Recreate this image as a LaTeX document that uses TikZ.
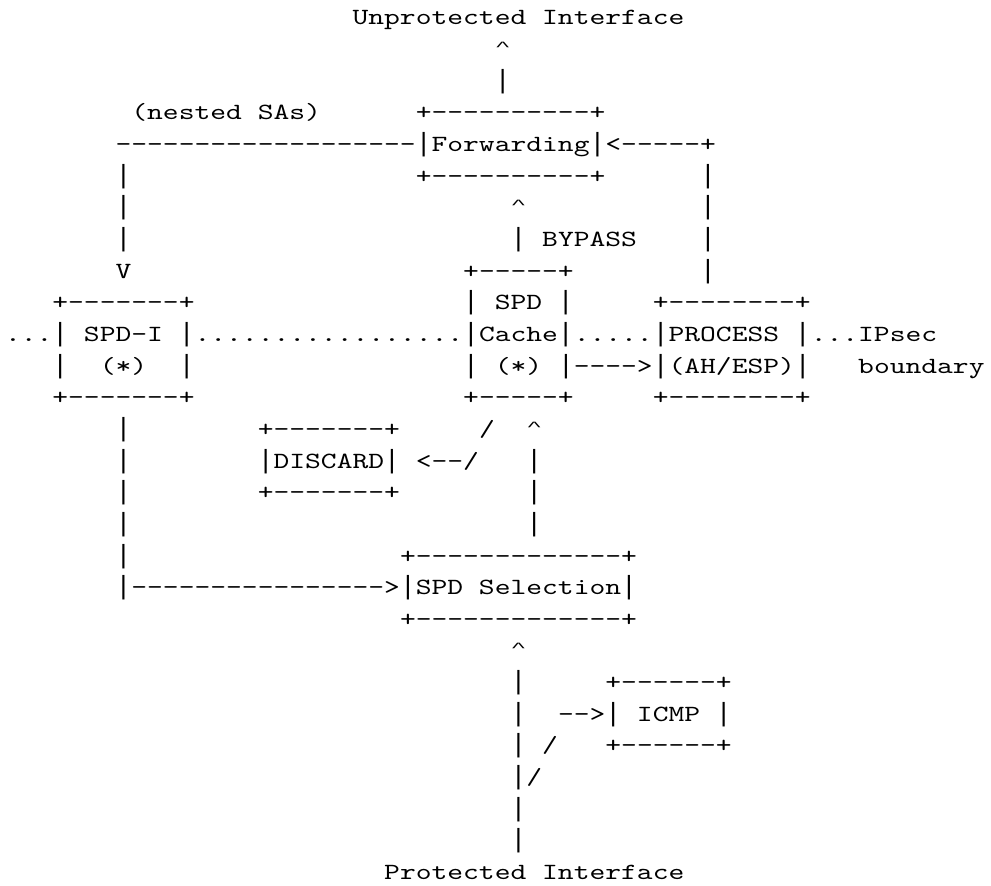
\documentclass[tikz,border=0pt]{standalone}
\usepackage{graphicx}
\usepackage{fontspec}
\newfontfamily\asciifont{lmmono10-regular.otf}[FakeStretch=1.297,Ligatures=TeXOff]
\newfontfamily\asciibarfont{Liberation Mono}[Ligatures=TeXOff]
\newcommand{\asciibar}{{\asciibarfont\fontsize{13.165pt}{15.8pt}\selectfont|}}
\newcommand{\asciicaret}{\raisebox{3pt}{\scalebox{1}[0.48]{\asciibarfont\fontsize{13.165pt}{15.8pt}\selectfont\textasciicircum}}}

\begin{document}
\begin{tikzpicture}[x=7.9pt, y=-15.825pt,
    txt/.style = {anchor=base west, inner sep=0pt, outer sep=0pt,
    font=\asciifont\fontsize{11.6pt}{15.8pt}\selectfont}]
  \useasboundingbox (-2.5pt,12.5pt) rectangle (493pt,-430.5pt);

  \node[txt] (unprot) at (22,0) {Unprotected Interface};
  \node[txt] (unprothead) at (31,1) {\asciicaret};
  \node[txt] (unprotline) at (31,2) {\asciibar};

  \node[txt] (nested) at (8,3) {(nested SAs)};
  \node[txt] (fwdtop) at (26,3) {+----------+};
  \node[txt] (nestedline) at (7,4) {-------------------};
  \node[txt] (fwd) at (26,4) {\asciibar Forwarding\asciibar};
  \node[txt] (fwdback) at (38,4) {<-----+};
  \node[txt] (fwdbot) at (26,5) {+----------+};
  \foreach \r in {5,6,7}
    \node[txt] (nestedv\r) at (7,\r) {\asciibar};
  \foreach \r in {5,...,8}
    \node[txt] (backv\r) at (44,\r) {\asciibar};
  \node[txt] (nestedhead) at (7,8) {V};

  \node[txt] (bypasshead) at (32,6) {\asciicaret};
  \node[txt] (bypass) at (32,7) {\asciibar{} BYPASS};

  \node[txt] (spditop) at (3,9) {+-------+};
  \node[txt] (leftdots) at (0,10) {...};
  \node[txt] (spdi) at (3,10) {\asciibar{} SPD-I \asciibar};
  \node[txt] (spdil) at (3,11) {\asciibar};
  \node[txt] (spdistar) at (6,11) {(*)};
  \node[txt] (spdir) at (11,11) {\asciibar};
  \node[txt] (spdibot) at (3,12) {+-------+};

  \node[txt] (middots) at (12,10) {.................};

  \node[txt] (cachetop) at (29,8) {+-----+};
  \node[txt] (spd) at (29,9) {\asciibar{} SPD \asciibar};
  \node[txt] (cache) at (29,10) {\asciibar Cache\asciibar};
  \node[txt] (cachel) at (29,11) {\asciibar};
  \node[txt] (cachestar) at (31,11) {(*)};
  \node[txt] (cachebot) at (29,12) {+-----+};

  \node[txt] (rightdots) at (36,10) {.....};
  \node[txt] (processtop) at (41,9) {+--------+};
  \node[txt] (process) at (41,10) {\asciibar PROCESS \asciibar};
  \node[txt] (ahesp) at (35,11) {\asciibar---->\asciibar(AH/ESP)\asciibar};
  \node[txt] (processbot) at (41,12) {+--------+};
  \node[txt] (ipsec) at (51,10) {...IPsec};
  \node[txt] (boundary) at (54,11) {boundary};

  \node[txt] (discardtop) at (16,13) {+-------+};
  \node[txt] (discard) at (16,14) {\asciibar DISCARD\asciibar{} <--/};
  \node[txt] (discardbot) at (16,15) {+-------+};
  \node[txt] (discardslash) at (30,13) {/};

  \node[txt] (cachehead) at (33,13) {\asciicaret};
  \foreach \r in {14,15,16}
    \node[txt] (cachev\r) at (33,\r) {\asciibar};
  \foreach \r in {13,...,17}
    \node[txt] (spdiv\r) at (7,\r) {\asciibar};

  \node[txt] (spdseltop) at (25,17) {+-------------+};
  \node[txt] (spdiarrow) at (7,18) {\asciibar---------------->};
  \node[txt] (spdsel) at (25,18) {\asciibar SPD Selection\asciibar};
  \node[txt] (spdselbot) at (25,19) {+-------------+};

  \node[txt] (spdselhead) at (32,20) {\asciicaret};
  \foreach \r in {21,22,23,25,26}
    \node[txt] (protv\r) at (32,\r) {\asciibar};
  \node[txt] (protslash) at (32,24) {\asciibar/};
  \node[txt] (icmpslash) at (34,23) {/};

  \node[txt] (icmptop) at (38,21) {+------+};
  \node[txt] (icmp) at (35,22) {-->\asciibar{} ICMP \asciibar};
  \node[txt] (icmpbot) at (38,23) {+------+};

  \node[txt] (prot) at (24,27) {Protected Interface};
\end{tikzpicture}
\end{document}
